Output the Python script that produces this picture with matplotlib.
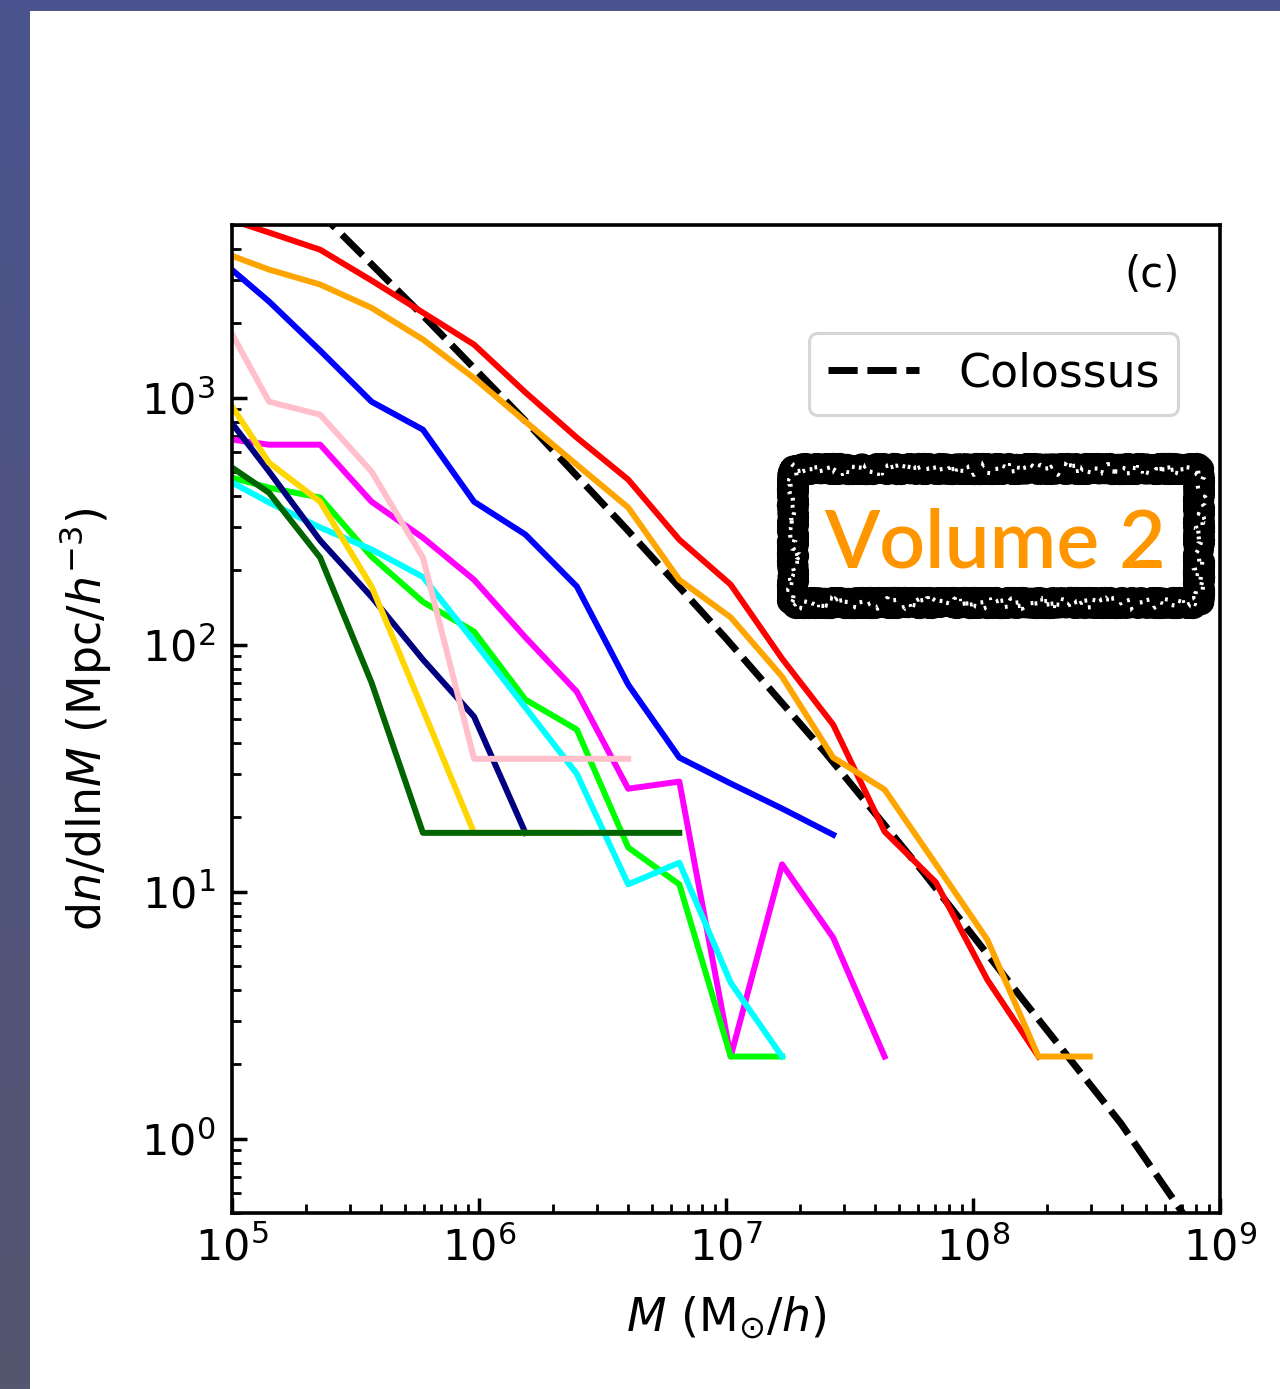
import matplotlib
matplotlib.use('Agg')
import matplotlib.pyplot as plt
import numpy as np
from matplotlib.patches import Rectangle
from matplotlib.colors import LinearSegmentedColormap

# bin centres (log10 M)
logm = [4.942, 5.150, 5.357, 5.565, 5.773, 5.980, 6.188, 6.396, 6.604,
        6.811, 7.019, 7.227, 7.434, 7.642, 7.850, 8.058, 8.265, 8.473]

red = [5460, 4660, 3970, 2980, 2210, 1640, 1050, 689, 466, 266, 175,
       87.8, 47.4, 17.5, 10.9, 4.40, 2.15]
orange = [3940, 3300, 2870, 2310, 1720, 1200, 800, 535, 359, 183, 129,
          74.2, 34.9, 25.9, 12.9, 6.39, 2.15, 2.15]
blue = [3690, 2450, 1550, 963, 742, 379, 279, 172, 68.9, 34.9, 27.4,
        21.7, 17.0]
pink = [2310, 963, 853, 502, 225, 34.5, 34.5, 34.5, 34.5]
magenta = [689, 645, 645, 379, 271, 183, 107, 64.5, 26.1, 27.9, 2.15,
           12.9, 6.51, 2.15]
green = [492, 432, 394, 227, 149, 113, 59.9, 45.3, 15.1, 10.7, 2.15, 2.15]
cyan = [488, 376, 298, 243, 188, 103, 55.6, 30.0, 10.7, 13.1, 4.28, 2.15]
navy = [937, 502, 264, 156, 87.0, 51.1, 17.3]
gold = [1130, 545, 379, 172, 54.6, 17.3, 17.3, 17.3]
darkgreen = [571, 412, 225, 70.2, 17.3, 17.3, 17.3, 17.3, 17.3, 17.3]

# Colossus model curve
col_logm = [5.0, 5.4, 5.8, 6.2, 6.6, 7.0, 7.4, 7.8, 8.2, 8.6, 9.0]
col_logn = [4.105, 3.705, 3.305, 2.893, 2.465, 2.025, 1.565, 1.077, 0.565, 0.06, -0.52]

series = [
    (red, 'red'),
    (orange, 'orange'),
    (blue, 'blue'),
    (magenta, 'magenta'),
    (green, 'lime'),
    (cyan, 'cyan'),
    (navy, 'navy'),
    (gold, 'gold'),
    (darkgreen, 'darkgreen'),
    (pink, 'pink'),
]

W, H = 1280, 1389
fig = plt.figure(figsize=(W / 100, H / 100), dpi=100)

# blue frame behind the white page
bg = fig.add_axes([0, 0, 1, 1], zorder=-3)
cmap = LinearSegmentedColormap.from_list('frame', ['#4c548f', '#55566f'])
bg.imshow(np.linspace(0, 1, 256).reshape(-1, 1), aspect='auto', cmap=cmap,
          extent=[0, 1, 0, 1], origin='upper')
bg.set_axis_off()
fig.add_artist(Rectangle((30 / W, 0), 1, 1 - 11 / H, transform=fig.transFigure,
                         facecolor='white', edgecolor='none', zorder=-2))

ax = fig.add_axes([232 / W, 1 - 1213 / H, 988 / W, 988 / H])

m_col = [10 ** v for v in col_logm]
n_col = [10 ** v for v in col_logn]
ax.plot(m_col, n_col, color='black', lw=5, dashes=(4.2, 1.4), label='Colossus')

for vals, c in series:
    m = [10 ** v for v in logm[:len(vals)]]
    ax.plot(m, vals, color=c, lw=4.3)

ax.set_xscale('log')
ax.set_yscale('log')
ax.set_xlim(1e5, 1e9)
ax.set_ylim(0.5, 5000)

ax.tick_params(which='both', direction='in', labelsize=31)
ax.tick_params(which='major', length=11, width=2.5)
ax.tick_params(which='minor', length=6.5, width=2)
ax.tick_params(axis='x', pad=10)
ax.tick_params(axis='y', pad=12)
for s in ax.spines.values():
    s.set_linewidth(2.6)

ax.set_xlabel(r'$M$ (M$_{\odot}$/$h$)', fontsize=33, labelpad=18)
ax.set_ylabel(r'd$n$/dln$M$ (Mpc/$h^{-3}$)', fontsize=33, labelpad=20)

ax.text(0.9595, 0.949, '(c)', transform=ax.transAxes, ha='right', va='center',
        fontsize=30)

leg = ax.legend(loc='upper right', bbox_to_anchor=((1178 - 232) / 988, 1 - (333 - 225) / 988),
                borderaxespad=0, fontsize=33, handlelength=2.0, handletextpad=0.85)
leg.get_frame().set_linewidth(2.2)
leg.get_frame().set_edgecolor('0.8')

# "Volume 2" stamp
box = ((793 / W, 1 - 603 / H), (1199 - 793) / W, (603 - 469) / H)
frame = Rectangle(*box, transform=fig.transFigure, facecolor='white',
                  edgecolor='black', lw=19, zorder=5, joinstyle='round',
                  capstyle='round')
frame.set_sketch_params(scale=3, length=3, randomness=6)
fig.add_artist(frame)
specks = Rectangle(*box, transform=fig.transFigure, facecolor='none',
                   edgecolor='white', lw=2, zorder=6, linestyle=(0, (1.5, 7)))
specks.set_sketch_params(scale=6, length=5, randomness=8)
fig.add_artist(specks)
fig.text(995 / W, 1 - 567 / H, 'Volume 2', color='#ff9600', fontsize=58,
         family='Lato', fontweight='semibold', ha='center', va='baseline', zorder=7)

fig.savefig('out.png', dpi=100)
